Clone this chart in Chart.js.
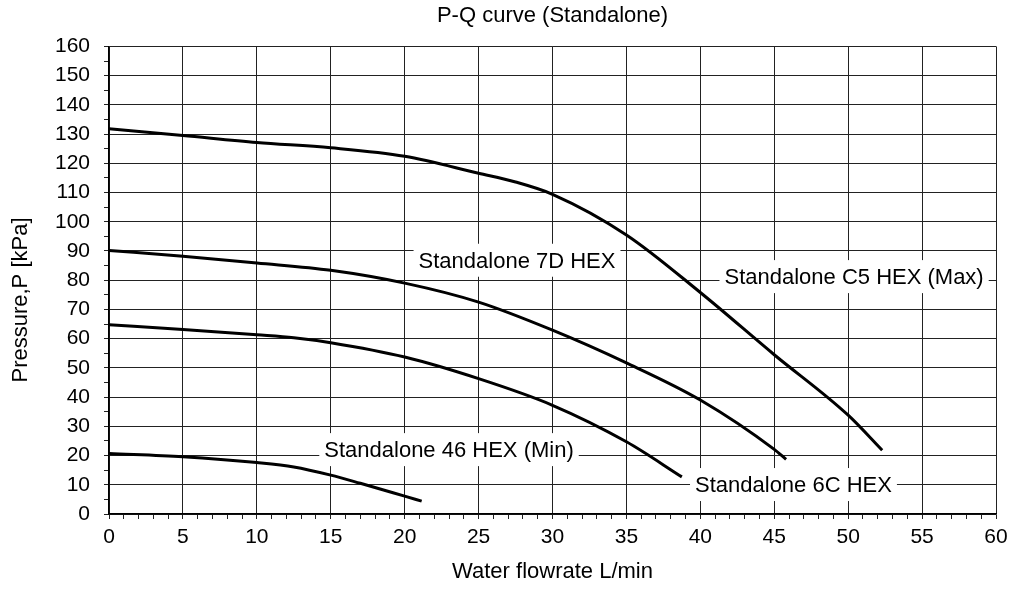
<!DOCTYPE html>
<html>
<head>
<meta charset="utf-8">
<script src="https://cdn.jsdelivr.net/npm/chart.js@4.4.0/dist/chart.umd.min.js"></script>
<style>
  body { margin: 0; background: #fff; }
  #wrap { width: 1014px; height: 590px; }
</style>
</head>
<body>
<div id="wrap"><canvas id="pq"></canvas></div>
<script>
// curves (flow L/min , pressure kPa)
const c5Flow = [0, 5, 10, 15, 20, 25, 27.5, 30, 35, 40, 45, 50, 52.3]
const c5Press = [131.8, 129.5, 127.1, 125.3, 122.4, 116.6, 113.6, 109.4, 95.5, 75.8, 54.5, 33.8, 21.8]

const hex7dFlow = [0, 5, 10, 15, 20, 25, 30, 35, 40, 45, 45.8]
const hex7dPress = [90.2, 88.2, 85.9, 83.4, 79.0, 72.5, 62.9, 51.7, 39.0, 22.1, 18.7]

const hex6cFlow = [0, 5, 10, 12.5, 15, 20, 25, 30, 35, 38.75]
const hex6cPress = [64.8, 63.1, 61.3, 60.3, 58.6, 53.7, 46.3, 37.2, 24.7, 12.7]

const hex46Flow = [0, 5, 10, 12.5, 15, 17, 20, 21.15]
const hex46Press = [20.7, 19.6, 17.6, 16.1, 13.3, 10.5, 6.1, 4.4]

// curve names and where they sit on the chart (data coords)
const curveNames = ["Standalone C5 HEX (Max)", "Standalone 7D HEX", "Standalone 6C HEX", "Standalone 46 HEX (Min)"]
const labelFlow = [50.4, 27.6, 46.3, 23.0]
const labelPress = [81.4, 87.0, 10.25, 22.2]

const xMin = 0, xMax = 60
const yMin = 0, yMax = 160

const fontFam = "'Liberation Sans', Arial, sans-serif"

const toPoints = (xs, ys) => xs.map((x, i) => ({ x: x, y: ys[i] }))

const series = [
    toPoints(c5Flow, c5Press),
    toPoints(hex7dFlow, hex7dPress),
    toPoints(hex6cFlow, hex6cPress),
    toPoints(hex46Flow, hex46Press)
]

let donnee = series.map((pts, i) => ({
    label: curveNames[i],
    data: pts,
    borderColor: "#000",
    borderWidth: 3,
    pointRadius: 0,
    fill: false,
    cubicInterpolationMode: "monotone"
}))

// white boxes with the curve names
const curveLabels = {
    id: "curveLabels",
    beforeDatasetsDraw(chart) {
        const ctx = chart.ctx
        const sx = chart.scales.x, sy = chart.scales.y
        ctx.save()
        ctx.font = "22px " + fontFam
        for (let i = 0; i < curveNames.length; i++) {
            let cx = sx.getPixelForValue(labelFlow[i])
            let cy = sy.getPixelForValue(labelPress[i])
            let w = ctx.measureText(curveNames[i]).width
            ctx.fillStyle = "#fff"
            ctx.fillRect(cx - w / 2 - 5, cy - 16, w + 10, 33)
            ctx.fillStyle = "#000"
            ctx.textAlign = "center"
            ctx.textBaseline = "alphabetic"
            ctx.fillText(curveNames[i], cx, cy + 8)
        }
        ctx.restore()
    },
    afterDraw(chart) {
        // y axis title, sits a bit below the middle like the original
        const ctx = chart.ctx
        ctx.save()
        ctx.translate(21, 300)
        ctx.rotate(-Math.PI / 2)
        ctx.font = "22px " + fontFam
        ctx.fillStyle = "#000"
        ctx.textAlign = "center"
        ctx.textBaseline = "middle"
        ctx.fillText("Pressure,P [kPa]", 0, 0)
        ctx.restore()
    }
}

const gridCol = "#222"

const config = {
    type: "line",
    data: { datasets: donnee },
    options: {
        responsive: true,
        maintainAspectRatio: false,
        animation: false,
        layout: { padding: { left: 0, right: 18, top: 0, bottom: 0 } },
        plugins: {
            legend: { display: false },
            tooltip: { enabled: false },
            title: {
                display: true,
                text: "P-Q curve (Standalone)",
                color: "#000",
                fullSize: false,
                font: { family: fontFam, size: 22, weight: "normal" },
                padding: { top: 3, bottom: 17 }
            }
        },
        scales: {
            x: {
                type: "linear",
                min: xMin,
                max: xMax,
                afterFit: (s) => { s.height = 76 },
                ticks: {
                    stepSize: 1,
                    autoSkip: false,
                    maxRotation: 0,
                    padding: 6,
                    color: "#000",
                    font: { family: fontFam, size: 21 },
                    callback: (v) => (v % 5 === 0 ? v : "")
                },
                grid: {
                    color: (c) => (c.tick && c.tick.value % 5 === 0 ? gridCol : "rgba(0,0,0,0)"),
                    tickColor: gridCol,
                    tickLength: 5,
                    lineWidth: 1
                },
                border: { color: "#000", width: 1.5 },
                title: {
                    display: true,
                    text: "Water flowrate L/min",
                    color: "#000",
                    font: { family: fontFam, size: 22 },
                    padding: { top: 0, bottom: 5 }
                }
            },
            y: {
                type: "linear",
                min: yMin,
                max: yMax,
                afterFit: (s) => { s.width = 109 },
                ticks: {
                    stepSize: 5,
                    autoSkip: false,
                    padding: 14,
                    color: "#000",
                    font: { family: fontFam, size: 21 },
                    callback: (v) => (v % 10 === 0 ? v : "")
                },
                grid: {
                    color: (c) => (c.tick && c.tick.value % 10 === 0 ? gridCol : "rgba(0,0,0,0)"),
                    tickColor: gridCol,
                    tickLength: 5,
                    lineWidth: 1
                },
                border: { color: "#000", width: 1.5 }
            }
        }
    },
    plugins: [curveLabels]
}

const chartPQ = new Chart(document.getElementById("pq").getContext("2d"), config)
</script>
</body>
</html>
